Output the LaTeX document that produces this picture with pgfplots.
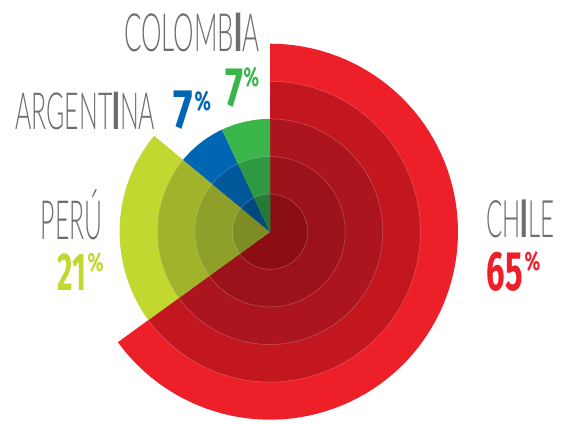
\documentclass[border=0pt]{standalone}
\usepackage{fontspec}
\usepackage{graphicx}
\usepackage{pgfplots}
\pgfplotsset{compat=1.18}
\usepgfplotslibrary{polar}
\setmainfont{Lato Light}
\newfontfamily\namefont{Lato Light}
\newfontfamily\ifont{Lato Black}
\newfontfamily\pctfont{Fira Sans}[UprightFont=*-Bold]
\definecolor{txtgray}{HTML}{6D6E71}
\definecolor{cl1}{HTML}{ED1F28}\definecolor{cl2}{HTML}{C3171F}\definecolor{cl3}{HTML}{AC151D}\definecolor{cl4}{HTML}{9C121A}\definecolor{cl5}{HTML}{8B0E15}
\definecolor{pe1}{HTML}{C2D730}\definecolor{pe2}{HTML}{A1B22B}\definecolor{pe3}{HTML}{8FA02A}\definecolor{pe4}{HTML}{7E8C26}
\definecolor{ar1}{HTML}{0066B3}\definecolor{ar2}{HTML}{00589A}\definecolor{ar3}{HTML}{004A80}
\definecolor{co1}{HTML}{3AB54A}\definecolor{co2}{HTML}{2E9842}\definecolor{co3}{HTML}{247A36}
% sector: start angle, end angle, radius, colour, samples
\newcommand{\sector}[5]{\addplot[fill=#4, draw=none, domain=#1:#2, samples=#5] {#3} -- (axis cs:0,0) -- cycle;}
\newcommand{\ring}[4]{\addplot[draw=white, draw opacity=0.28, line width=0.5pt, domain=#1:#2, samples=#4] {#3};}
% label helpers
\newcommand{\lab}[6]{\node[anchor=south west, inner sep=0pt, text=#6] at (#1pt,#2pt) {\resizebox{#3pt}{#4pt}{#5}};}
\begin{document}
\begin{tikzpicture}
\path[use as bounding box] (0,0) rectangle (572pt,423pt);
\begin{polaraxis}[hide axis, scale only axis, width=376pt, height=376pt,
  xmin=0, xmax=360, ymin=0, ymax=188, clip=false,
  at={(270pt,191.3pt)}, anchor=origin]
% Chile 65% : 90 -> -144
\sector{-144}{90}{188}{cl1}{90}
\sector{-144}{90}{150.4}{cl2}{90}
\sector{-144}{90}{112.8}{cl3}{90}
\sector{-144}{90}{75.2}{cl4}{90}
\sector{-144}{90}{37.6}{cl5}{90}
% Peru 21% : 140.4 -> 216
\sector{140.4}{216}{150.4}{pe1}{32}
\sector{140.4}{216}{112.8}{pe2}{32}
\sector{140.4}{216}{75.2}{pe3}{32}
\sector{140.4}{216}{37.6}{pe4}{32}
% Argentina 7% : 115.2 -> 140.4
\sector{115.2}{140.4}{112.8}{ar1}{14}
\sector{115.2}{140.4}{75.2}{ar2}{14}
\sector{115.2}{140.4}{37.6}{ar3}{14}
% Colombia 7% : 90 -> 115.2
\sector{90}{115.2}{112.8}{co1}{14}
\sector{90}{115.2}{75.2}{co2}{14}
\sector{90}{115.2}{37.6}{co3}{14}
% faint ring lines
\ring{-144}{90}{150.4}{90}
\ring{-144}{90}{112.8}{90}
\ring{-144}{90}{75.2}{90}
\ring{-144}{90}{37.6}{90}
\ring{140.4}{216}{112.8}{32}
\ring{140.4}{216}{75.2}{32}
\ring{140.4}{216}{37.6}{32}
\ring{90}{140.4}{75.2}{20}
\ring{90}{140.4}{37.6}{20}
\end{polaraxis}
% country names
\lab{124}{371.3}{135}{38.4}{\namefont COLOMB{\ifont I}A}{txtgray}
\lab{15}{293}{140}{37.3}{\namefont ARGENT{\ifont I}NA}{txtgray}
\lab{40.7}{183}{61.6}{38.3}{\namefont PER\smash{Ú}}{txtgray}
\lab{486}{184.7}{68}{37.6}{\namefont CH{\ifont I}LE}{txtgray}
% percentages: digits
\lab{225}{315.7}{18}{37.5}{\pctfont 7}{co1}
\lab{173.3}{293.7}{19.5}{37.6}{\pctfont 7}{ar1}
\lab{57.3}{132.3}{28.7}{36.7}{\pctfont 21}{pe1}
\lab{486.7}{131.7}{36}{38.3}{\pctfont 65}{cl1}
% percent signs
\lab{243.5}{335}{15.5}{19.5}{\pctfont\%}{co1}
\lab{194.3}{311.3}{16.4}{19.5}{\pctfont\%}{ar1}
\lab{87.3}{150}{16}{19}{\pctfont\%}{pe1}
\lab{524.3}{151}{15.7}{19}{\pctfont\%}{cl1}
\end{tikzpicture}
\end{document}
